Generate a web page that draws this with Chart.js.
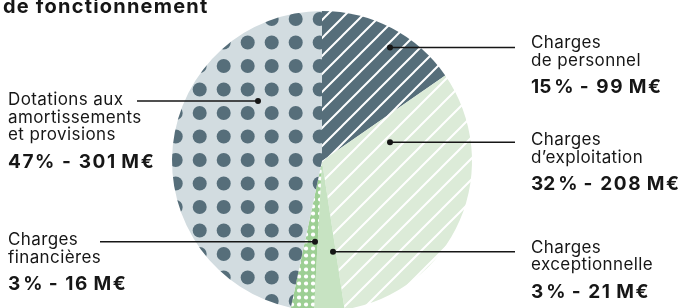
<!DOCTYPE html>
<html lang="fr">
<head>
<meta charset="utf-8">
<title>Charges de fonctionnement</title>
<script src="https://cdn.jsdelivr.net/npm/chart.js@4"></script>
<style>
  html, body { margin: 0; padding: 0; background: #fff; overflow: hidden; }
  canvas { display: block; }
</style>
</head>
<body>
<canvas id="chart-charges" width="685" height="330"></canvas>
<script>
// Data (M€), clockwise from 12 o'clock
const categories = ['Charges de personnel', 'Charges d’exploitation', 'Charges exceptionnelle', 'Charges financières', 'Dotations aux amortissements et provisions'];
const amounts = [99, 208, 21, 16, 301];
const labelLines = [
    ['Charges', 'de personnel'],
    ['Charges', 'd’exploitation'],
    ['Charges', 'exceptionnelle'],
    ['Charges', 'financières'],
    ['Dotations aux', 'amortissements', 'et provisions']
];
const valueLabels = ['15\u202F% - 99\u202FM€', '32\u202F% - 208\u202FM€', '3\u202F% - 21\u202FM€', '3\u202F% - 16\u202FM€', '47% - 301\u202FM€'];
const titleText = 'de fonctionnement';

// Callout layout: dot offset from pie centre, end of leader line, text column, baselines
const callouts = [
    { dot: [68, -113.5], lineX: 515, textX: 531, y: [47.5, 65.5], valueY: 92.5 },
    { dot: [68, -18.7], lineX: 515, textX: 531, y: [145, 162.5], valueY: 189.5 },
    { dot: [11, 90.7], lineX: 515, textX: 531, y: [252.5, 270.3], valueY: 297.5 },
    { dot: [-7, 80.7], lineX: 100, textX: 8, y: [245, 262.7], valueY: 290 },
    { dot: [-64, -60], lineX: 137, textX: 8, y: [105, 122.5, 140], valueY: 168, lineY: 101 }
];

function stripePattern(bg, period, lineW) {
    const c = document.createElement('canvas');
    c.width = period;
    c.height = period;
    const g = c.getContext('2d');
    g.fillStyle = bg;
    g.fillRect(0, 0, period, period);
    g.strokeStyle = '#ffffff';
    g.lineWidth = lineW;
    g.beginPath();
    g.moveTo(0, period); g.lineTo(period, 0);
    g.moveTo(-period / 2, period / 2); g.lineTo(period / 2, -period / 2);
    g.moveTo(period / 2, period * 1.5); g.lineTo(period * 1.5, period / 2);
    g.stroke();
    return g.createPattern(c, 'repeat');
}

function dotPattern(bg, fg, w, h, r, dots) {
    const c = document.createElement('canvas');
    c.width = w;
    c.height = h;
    const g = c.getContext('2d');
    g.fillStyle = bg;
    g.fillRect(0, 0, w, h);
    g.fillStyle = fg;
    dots.forEach(([x, y]) => {
        for (let i = -1; i <= 1; i++) {
            for (let j = -1; j <= 1; j++) {
                g.beginPath();
                g.arc(x + i * w, y + j * h, r, 0, Math.PI * 2);
                g.fill();
            }
        }
    });
    return g.createPattern(c, 'repeat');
}

const sliceFills = [
    stripePattern('#566e7a', 18, 2),
    stripePattern('#dcebd8', 21, 2),
    '#c7e3c2',
    dotPattern('#9dcf94', '#ffffff', 7, 7, 2.1, [[5, 3.5]]),
    dotPattern('#d2dce0', '#566e7a', 24, 47, 7, [[7.7, 19], [7.7, 42.5]])
];

const calloutPlugin = {
    id: 'callouts',
    afterDatasetsDraw(chart) {
        const ctx = chart.ctx;
        const arc = chart.getDatasetMeta(0).data[0];
        const cx = arc.x, cy = arc.y;

        ctx.save();
        ctx.fillStyle = '#161616';
        ctx.strokeStyle = '#161616';
        ctx.textBaseline = 'alphabetic';

        // title (first line is outside the frame)
        ctx.font = 'bold 20px Inter';
        ctx.letterSpacing = '1.2px';
        ctx.fillText(titleText, 3, 12.5);

        callouts.forEach((c, i) => {
            const px = cx + c.dot[0];
            const py = cy + c.dot[1];
            const ly = c.lineY !== undefined ? c.lineY : py;

            ctx.lineWidth = 1.5;
            ctx.beginPath();
            ctx.moveTo(px, ly);
            ctx.lineTo(c.lineX, ly);
            ctx.stroke();
            ctx.beginPath();
            ctx.arc(px, py, 3, 0, Math.PI * 2);
            ctx.fill();

            ctx.font = '17px Inter';
            ctx.letterSpacing = '0.4px';
            labelLines[i].forEach((line, k) => ctx.fillText(line, c.textX, c.y[k]));

            ctx.font = 'bold 19px Inter';
            ctx.letterSpacing = '1.6px';
            ctx.fillText(valueLabels[i], c.textX, c.valueY);
        });
        ctx.restore();
    }
};

const ctxPie = document.getElementById('chart-charges').getContext('2d');
const chart = new Chart(ctxPie, {
    type: 'pie',
    data: {
        labels: categories,
        datasets: [{
            data: amounts,
            backgroundColor: sliceFills,
            borderWidth: 0
        }]
    },
    options: {
        responsive: false,
        animation: false,
        events: [],
        layout: { padding: { left: 172, right: 213, top: 11, bottom: 19 } },
        plugins: {
            legend: { display: false },
            tooltip: { enabled: false }
        }
    },
    plugins: [calloutPlugin]
});
</script>
</body>
</html>
